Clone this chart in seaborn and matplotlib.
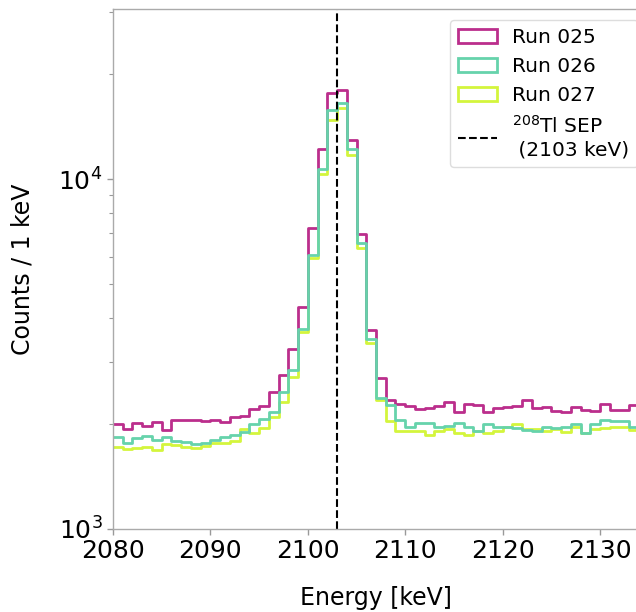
import numpy as np
import pandas as pd
import matplotlib
matplotlib.use("Agg")
import matplotlib.pyplot as plt
import seaborn as sns
from matplotlib.patches import Patch
from matplotlib.lines import Line2D

# Bin edges (1 keV bins)
bin_lo = 2080
bin_hi = 2134
energy = np.arange(bin_lo, bin_hi) + 0.5

run_025 = [2000, 1930, 2010, 1970, 2025, 1920, 2050, 2050, 2050, 2040,
           2050, 2020, 2090, 2110, 2200, 2240, 2460, 2750, 3270, 4320,
           7250, 12200, 17600, 18000, 12900, 6950, 3700, 2700, 2330, 2280,
           2240, 2200, 2210, 2245, 2300, 2165, 2270, 2265, 2160, 2210,
           2230, 2245, 2330, 2210, 2235, 2175, 2160, 2225, 2190, 2170,
           2275, 2190, 2190, 2260]
run_026 = [1830, 1760, 1815, 1845, 1800, 1830, 1790, 1775, 1750, 1765,
           1800, 1830, 1850, 1897, 2000, 2060, 2160, 2460, 2850, 3720,
           6070, 10650, 15700, 16500, 12200, 6580, 3500, 2360, 2260, 2050,
           1960, 2005, 2010, 1960, 1965, 2010, 1955, 1900, 1990, 1960,
           1960, 1940, 1920, 1900, 1950, 1940, 1960, 1990, 1880, 1990,
           2050, 2040, 2040, 1950]
run_027 = [1720, 1690, 1700, 1710, 1685, 1750, 1735, 1720, 1700, 1725,
           1765, 1760, 1790, 1935, 1876, 1940, 2085, 2300, 2720, 3660,
           5930, 10330, 14750, 16000, 11700, 6350, 3390, 2330, 2040, 1900,
           1905, 1905, 1860, 1900, 1935, 1875, 1860, 1910, 1875, 1910,
           1960, 1990, 1930, 1930, 1900, 1930, 1890, 1950, 1880, 1930,
           1940, 1960, 1950, 1920]

runs = ["Run 025", "Run 026", "Run 027"]
colors = {"Run 025": "#bb2e8c", "Run 026": "#66d3ab", "Run 027": "#d4f53c"}
sep_energy = 2103
sep_label = "$^{208}$Tl SEP\n (2103 keV)"

df = pd.DataFrame({
    "energy": np.concatenate([energy] * 3),
    "counts": np.concatenate([run_025, run_026, run_027]),
    "run": np.repeat(runs, len(energy)),
})

sns.set_style("white")
plt.rcParams["font.family"] = ["DejaVu Sans"]
plt.rcParams["text.color"] = "black"
plt.rcParams["axes.labelcolor"] = "black"

fig = plt.figure(figsize=(6.36, 6.12), dpi=100)
ax = fig.add_axes([113 / 636, 83 / 612, 526 / 636, 520 / 612])

for run in ["Run 027", "Run 025", "Run 026"]:
    sns.histplot(data=df[df["run"] == run], x="energy", weights="counts",
                 binwidth=1, binrange=(bin_lo, bin_hi), element="step",
                 fill=False, color=colors[run], linewidth=2, ax=ax)

ax.axvline(sep_energy, color="black", linestyle="--", linewidth=1.5)

ax.set_yscale("log")
ax.set_ylim(1e3, 3.06e4)
ax.set_xlim(2080, 2134)
ax.set_xticks([2080, 2090, 2100, 2110, 2120, 2130])
ax.set_xlabel("Energy [keV]", fontsize=17, labelpad=16, color="black")
ax.set_ylabel("Counts / 1 keV", fontsize=17, labelpad=17, color="black")
ax.tick_params(axis="both", which="major", labelsize=18, colors="#999999",
               labelcolor="black", length=4, width=1)
ax.tick_params(axis="y", which="minor", colors="#999999", length=3, width=0.8)
ax.tick_params(axis="x", which="major", bottom=True)
ax.tick_params(axis="y", which="both", left=True)
for s in ax.spines.values():
    s.set_color("#aaaaaa")
    s.set_linewidth(1)

handles = [Patch(facecolor="none", edgecolor=colors[r], linewidth=2) for r in runs]
handles.append(Line2D([], [], color="black", linestyle="--", linewidth=1.5))
labels = runs + [sep_label]
leg = ax.legend(handles, labels, loc="upper left", bbox_to_anchor=(450 / 636, 1 - 20 / 612),
                bbox_transform=fig.transFigure, borderaxespad=0, fontsize=14.5,
                handlelength=1.95, handletextpad=0.75, labelspacing=0.5,
                frameon=True, framealpha=1, edgecolor="#dddddd")
for t in leg.get_texts():
    t.set_color("black")

fig.savefig("out.png", dpi=100)
